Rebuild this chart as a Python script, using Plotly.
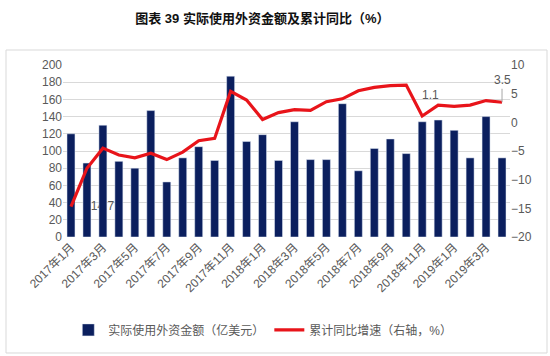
import plotly.graph_objects as go

months = ["2017年1月", "2017年2月", "2017年3月", "2017年4月", "2017年5月", "2017年6月",
          "2017年7月", "2017年8月", "2017年9月", "2017年10月", "2017年11月", "2017年12月",
          "2018年1月", "2018年2月", "2018年3月", "2018年4月", "2018年5月", "2018年6月",
          "2018年7月", "2018年8月", "2018年9月", "2018年10月", "2018年11月", "2018年12月",
          "2019年1月", "2019年2月", "2019年3月", "2019年4月"]
fdi_amount = [120, 86, 130, 88, 80, 147, 64, 92, 105, 89, 187, 111, 119, 89,
              134, 90, 90, 155, 77, 103, 114, 97, 134, 136, 124, 92, 140, 92]
cum_yoy = [-14.7, -8.0, -4.5, -5.7, -6.2, -5.4, -6.5, -5.2, -3.2, -2.8, 5.4, 3.9,
           0.5, 1.7, 2.2, 2.1, 3.6, 4.1, 5.5, 6.1, 6.4, 6.5, 1.1, 3.0, 2.8, 3.0, 3.8, 3.5]
tick_labels = months[::2]

FONT = "Arial, 'Liberation Sans', 'Noto Sans CJK SC', sans-serif"
GRAY = "#595959"
NAVY = "#0b1f5e"
RED = "#e8141a"

fig = go.Figure()

# label that sits beneath the bars (base subplot)
fig.add_trace(go.Scatter(
    x=[months[0]], y=[cum_yoy[0]], mode="text",
    text=["\u00a0\u00a0\u00a0\u00a0\u2009" + f"{cum_yoy[0]}"], textposition="middle right",
    textfont=dict(size=12, color=GRAY, family=FONT),
    showlegend=False, hoverinfo="skip", yaxis="y"))

fig.add_trace(go.Bar(
    x=months, y=fdi_amount, name="实际使用外资金额（亿美元）",
    marker_color=NAVY, yaxis="y2"))

fig.add_trace(go.Scatter(
    x=months, y=cum_yoy, name="累计同比增速（右轴，%）", mode="lines",
    line=dict(color=RED, width=3.2), yaxis="y3"))

fig.add_annotation(x=months[22], y=cum_yoy[22], xref="x", yref="y3",
                   text=f"{cum_yoy[22]}", showarrow=False, xshift=8, yshift=21,
                   font=dict(size=12, color=GRAY, family=FONT))
fig.add_annotation(x=months[27], y=cum_yoy[27], xref="x", yref="y3",
                   text=f"{cum_yoy[27]}", showarrow=True, arrowhead=0, arrowwidth=1,
                   arrowcolor="#a6a6a6", ax=0, ay=-22,
                   font=dict(size=12, color=GRAY, family=FONT))

fig.add_shape(type="rect", xref="paper", yref="paper",
              x0=-0.1275, x1=1.0828, y0=-0.6744, y1=1.0872,
              line=dict(color="#d9d9d9", width=1), fillcolor="rgba(0,0,0,0)")

fig.update_layout(
    width=550, height=356,
    margin=dict(l=63, r=40, t=65, b=119, autoexpand=False),
    paper_bgcolor="white", plot_bgcolor="white",
    font=dict(family=FONT, size=12, color=GRAY),
    title=dict(text="<b>图表 39 实际使用外资金额及累计同比（%）</b>",
               x=0.477, xanchor="center", y=1 - 18 / 356, yanchor="middle",
               font=dict(size=13, color="#111111", family=FONT)),
    bargap=0.5,
    xaxis=dict(type="category", tickmode="array", tickvals=tick_labels, ticktext=tick_labels,
               range=[-0.5, len(months) - 0.5],
               tickangle=-45, showgrid=False, showline=False, ticks="", automargin=False,
               tickfont=dict(size=12, color=GRAY)),
    yaxis=dict(range=[-20, 10], visible=False, automargin=False),
    yaxis2=dict(overlaying="y", side="left", range=[0, 200], dtick=20, automargin=False,
                showgrid=True, gridcolor="#d9d9d9", zeroline=False, showline=False,
                tickfont=dict(size=12, color=GRAY)),
    yaxis3=dict(overlaying="y", side="right", range=[-20, 10], dtick=5, automargin=False,
                showgrid=False, zeroline=False, showline=False,
                tickfont=dict(size=12, color=GRAY)),
    legend=dict(orientation="h", x=0.447, xanchor="center", y=-0.54, yanchor="middle",
                font=dict(size=12, color=GRAY), bgcolor="rgba(0,0,0,0)",
                traceorder="normal"),
    showlegend=True,
)

fig.write_html("out.html", config={"displayModeBar": False},
               post_script="document.body.style.margin='0';document.body.style.overflow='hidden';")
